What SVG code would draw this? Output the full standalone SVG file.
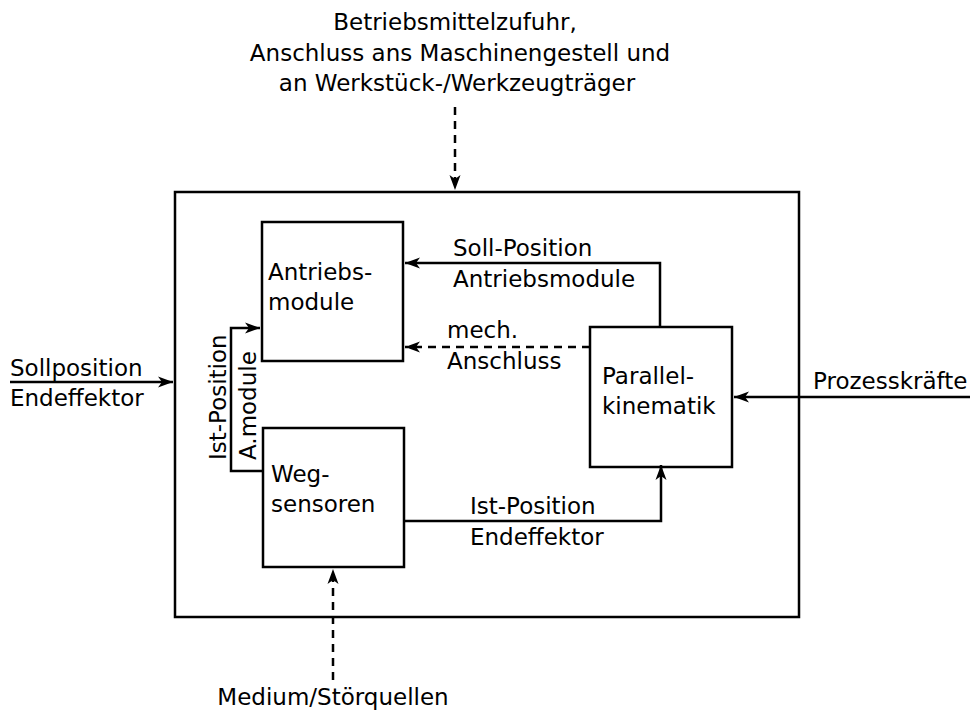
<svg xmlns="http://www.w3.org/2000/svg" width="973" height="714" viewBox="0 0 973 714">
<style>
text{font-family:"DejaVu Sans","Liberation Sans",sans-serif;font-size:23px;fill:#000}
.box{fill:#fff;stroke:#000;stroke-width:2.5}
.ln{fill:none;stroke:#000;stroke-width:2.5}
.dash{stroke-dasharray:8,6}
</style>
<defs>
<marker id="ah" markerWidth="18" markerHeight="14" viewBox="-16 -7 18 14" refX="0" refY="0" orient="auto" markerUnits="userSpaceOnUse">
<path d="M0,0 L-15,-5.5 L-11,0 L-15,5.5 Z" fill="#000"/>
</marker>
</defs>
<rect width="973" height="714" fill="#fff"/>
<g id="system"><rect class="box" x="175" y="192" width="624" height="425"/></g>
<g id="antrieb"><rect class="box" x="262" y="222" width="141" height="139"/>
<text x="268" y="280">Antriebs-</text><text x="268" y="310">module</text></g>
<g id="weg"><rect class="box" x="263" y="428" width="141" height="139"/>
<text x="271" y="482">Weg-</text><text x="271" y="512">sensoren</text></g>
<g id="parallel"><rect class="box" x="590" y="327" width="142" height="140"/>
<text x="602" y="384">Parallel-</text><text x="602" y="414">kinematik</text></g>
<g id="connectors">
<path class="ln dash" d="M455,107 V190" marker-end="url(#ah)"/>
<path class="ln dash" d="M333,680 V569" marker-end="url(#ah)"/>
<path class="ln" d="M10,382 H173" marker-end="url(#ah)"/>
<path class="ln" d="M970,397 H734" marker-end="url(#ah)"/>
<path class="ln" d="M660,327 V263 H405" marker-end="url(#ah)"/>
<path class="ln dash" d="M590,347 H405" marker-end="url(#ah)"/>
<path class="ln" d="M263,471 H231 V328 H260" marker-end="url(#ah)"/>
<path class="ln" d="M404,521 H661 V465" marker-end="url(#ah)"/>
</g>
<g id="labels">
<text x="455" y="30" text-anchor="middle">Betriebsmittelzufuhr,</text>
<text x="460" y="61" text-anchor="middle">Anschluss ans Maschinengestell und</text>
<text x="457" y="91" text-anchor="middle">an Werkstück-/Werkzeugträger</text>
<text x="333" y="705" text-anchor="middle">Medium/Störquellen</text>
<text x="10" y="376">Sollposition</text>
<text x="10" y="406">Endeffektor</text>
<text x="813" y="389">Prozesskräfte</text>
<text x="453" y="256">Soll-Position</text>
<text x="453" y="287">Antriebsmodule</text>
<text x="447" y="338">mech.</text>
<text x="447" y="369">Anschluss</text>
<text x="470" y="514">Ist-Position</text>
<text x="470" y="545">Endeffektor</text>
<text transform="translate(226,460) rotate(-90)">Ist-Position</text>
<text transform="translate(256,460) rotate(-90)">A.module</text>
</g>
</svg>
